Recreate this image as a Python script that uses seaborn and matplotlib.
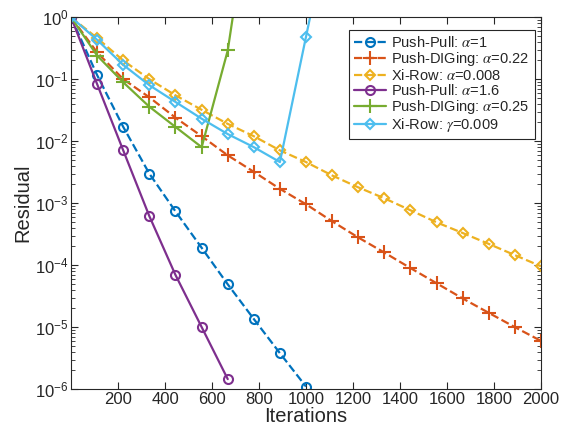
import numpy as np
import pandas as pd
import matplotlib
matplotlib.use("Agg")
import matplotlib.pyplot as plt
import seaborn as sns

# iterations where the curves were sampled (markers)
iters = [0, 111, 222, 333, 444, 556, 667, 778, 889, 1000,
         1111, 1222, 1333, 1444, 1556, 1667, 1778, 1889, 2000]

# residuals
pp_a1 = [1, 0.116, 0.017, 0.003, 7.4e-4, 1.9e-4, 4.9e-5, 1.35e-5, 3.8e-6, 1.1e-6]
pd_a022 = [1, 0.27, 0.10, 0.051, 0.024, 0.012, 0.0059, 0.0032, 0.0017, 9.6e-4,
           5.1e-4, 2.8e-4, 1.6e-4, 9.0e-5, 5.1e-5, 2.9e-5, 1.7e-5, 1.0e-5, 6.0e-6]
xr_a0008 = [1, 0.46, 0.20, 0.10, 0.055, 0.032, 0.019, 0.012, 0.0071, 0.0046,
            0.0028, 0.0018, 0.0012, 7.7e-4, 4.9e-4, 3.3e-4, 2.2e-4, 1.45e-4, 9.6e-5]
pp_a16 = [1, 0.083, 0.0071, 6.2e-4, 7.0e-5, 1.0e-5, 1.45e-6]
pd_a025 = [1, 0.24, 0.089, 0.036, 0.017, 0.008, 0.29, 180]
xr_g0009 = [1, 0.43, 0.17, 0.08, 0.043, 0.023, 0.013, 0.008, 0.0046, 0.48, 50]

labels = [r"Push-Pull: $\alpha$=1", r"Push-DIGing: $\alpha$=0.22", r"Xi-Row: $\alpha$=0.008",
          r"Push-Pull: $\alpha$=1.6", r"Push-DIGing: $\alpha$=0.25", r"Xi-Row: $\gamma$=0.009"]
series = [pp_a1, pd_a022, xr_a0008, pp_a16, pd_a025, xr_g0009]
colors = ["#0072BD", "#D95319", "#EDB120", "#7E2F8E", "#77AC30", "#4DBEEE"]
markers = ["o", "+", "D", "o", "+", "D"]
styles = ["--", "--", "--", "-", "-", "-"]
msizes = [6.5, 10, 5, 6.5, 10, 5]

sns.set_theme(style="ticks")
plt.rcParams["font.family"] = ["Liberation Sans", "DejaVu Sans"]
plt.rcParams["mathtext.fontset"] = "stix"
plt.rcParams["xtick.direction"] = "in"
plt.rcParams["ytick.direction"] = "in"

fig = plt.figure(figsize=(5.64, 4.29), dpi=100)
ax = fig.add_axes([0.126, 0.093, 0.833, 0.867])

for vals, lab, c, m, ls, ms in zip(series, labels, colors, markers, styles, msizes):
    df = pd.DataFrame({"Iterations": iters[:len(vals)], "Residual": vals})
    sns.lineplot(data=df, x="Iterations", y="Residual", ax=ax, label=lab,
                 color=c, linestyle=ls, linewidth=1.6, marker=m, markersize=ms,
                 markerfacecolor="none", markeredgecolor=c, markeredgewidth=1.5)

ax.set_yscale("log")
ax.set_xlim(0, 2000)
ax.set_ylim(1e-6, 1)
ax.set_xticks(range(200, 2001, 200))
ax.tick_params(which="both", top=True, right=True, colors="#262626", labelsize=12, pad=2)
ax.tick_params(which="major", length=5, width=0.8)
ax.tick_params(which="minor", length=3, width=0.6)
for sp in ax.spines.values():
    sp.set_visible(True)
    sp.set_color("#262626")
    sp.set_linewidth(0.8)
ax.set_xlabel("Iterations", fontsize=14.5, color="#262626", labelpad=0)
ax.set_ylabel("Residual", fontsize=14.5, color="#262626", labelpad=2)

leg = ax.legend(loc="upper right", bbox_to_anchor=(0.987, 0.965), fontsize=10.5,
                handlelength=2.2, handletextpad=0.35, labelspacing=0.0,
                borderpad=0.35, borderaxespad=0.0, numpoints=1, fancybox=False,
                framealpha=1)
leg.get_frame().set_edgecolor("#262626")
leg.get_frame().set_linewidth(0.8)

fig.savefig("out.png", dpi=100)
